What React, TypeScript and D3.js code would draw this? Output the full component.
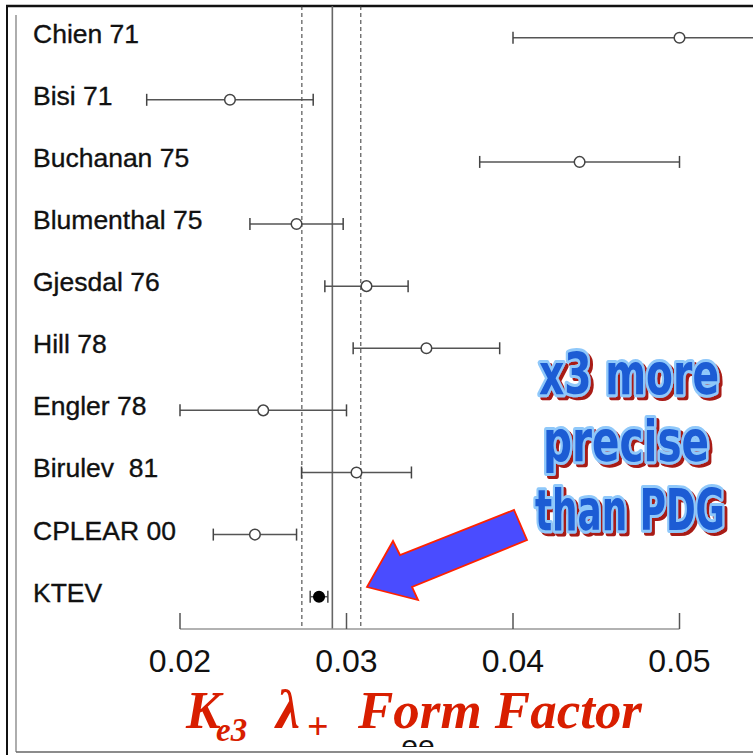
import React from "react";
import * as d3 from "d3";

const experiments = ["Chien 71", "Bisi 71", "Buchanan 75", "Blumenthal 75", "Gjesdal 76", "Hill 78", "Engler 78", "Birulev  81", "CPLEAR 00", "KTEV"];
const centralValues = [0.050, 0.023, 0.044, 0.0270, 0.0312, 0.0348, 0.025, 0.0306, 0.0245, 0.02835];
const errorValues = [0.010, 0.005, 0.006, 0.0028, 0.0025, 0.0044, 0.005, 0.0033, 0.0025, 0.00053];
const filledMarker = [false, false, false, false, false, false, false, false, false, true];
const pdgMean = 0.02915;
const pdgBand = [0.02732, 0.03086];
const tickValues = [0.02, 0.03, 0.04, 0.05];
const annotationLines = ["x3 more", "precise", "than PDG"];

const W = 753, H = 755;

export default function App() {
  const x = d3.scaleLinear().domain([0.02, 0.05]).range([180, 679.5]);
  const y = d3.scalePoint<string>().domain(experiments).range([37.7, 596.7]);
  const axisY = 629;
  const topY = 6;
  const fmt = d3.format(".2f");

  const annot = [
    { t: annotationLines[0], cx: 629, by: 394, w: 180 },
    { t: annotationLines[1], cx: 626, by: 461, w: 166 },
    { t: annotationLines[2], cx: 630, by: 530, w: 190 },
  ];
  const annotFont = "'Liberation Sans Narrow', 'DejaVu Sans Condensed', 'Liberation Sans', Arial, sans-serif";

  const arrowPts: [number, number][] = [
    [367, 587], [393, 541], [400, 555], [514, 510], [527, 540], [412, 587], [418, 600],
  ];

  return (
    <svg width={W} height={H} style={{ position: "absolute", left: 0, top: 0, background: "#fff" }}>
      <defs>
        <clipPath id="plotclip">
          <rect x={16} y={topY} width={W - 16} height={H} />
        </clipPath>
        <clipPath id="hiddenlabel">
          <rect x={0} y={739} width={W} height={8} />
        </clipPath>
        <filter id="redshadow" x="-10%" y="-20%" width="130%" height="150%">
          <feOffset in="SourceAlpha" dx={3} dy={3} result="off" />
          <feFlood floodColor="#a81a14" result="col" />
          <feComposite in="col" in2="off" operator="in" result="shadow" />
          <feMerge>
            <feMergeNode in="shadow" />
            <feMergeNode in="SourceGraphic" />
          </feMerge>
        </filter>
      </defs>
      <rect x={0} y={0} width={W} height={H} fill="#fff" />
      {/* frame */}
      <line x1={7} x2={7} y1={topY} y2={H} stroke="#111" strokeWidth={2} />
      <line x1={6} x2={W} y1={topY} y2={topY} stroke="#111" strokeWidth={2.5} />
      <line x1={16} x2={16} y1={15} y2={752} stroke="#777" strokeWidth={1.2} />
      <line x1={16} x2={W} y1={752} y2={752} stroke="#666" strokeWidth={1.5} />

      {/* PDG lines */}
      <line x1={x(pdgMean)} x2={x(pdgMean)} y1={topY} y2={axisY} stroke="#666" strokeWidth={1.6} />
      {pdgBand.map((v, i) => (
        <line key={i} x1={x(v)} x2={x(v)} y1={topY} y2={axisY} stroke="#333" strokeWidth={1} strokeDasharray="4,3" />
      ))}

      {/* axis */}
      <line x1={x(0.02)} x2={x(0.05)} y1={axisY} y2={axisY} stroke="#999" strokeWidth={1.5} />
      {tickValues.map((t) => (
        <g key={t}>
          <line x1={x(t)} x2={x(t)} y1={axisY - 16} y2={axisY} stroke="#555" strokeWidth={1.5} />
          <text x={x(t)} y={672} textAnchor="middle" fontFamily="'Liberation Sans', Arial, sans-serif" fontSize={32} fill="#111">
            {fmt(t)}
          </text>
        </g>
      ))}

      {/* labels and error bars */}
      {experiments.map((name, i) => {
        const yy = y(name)!;
        const lo = x(centralValues[i] - errorValues[i]);
        const hi = x(centralValues[i] + errorValues[i]);
        const c = x(centralValues[i]);
        return (
          <g key={name}>
            <text x={33} y={yy + 5} fontFamily="'Liberation Sans', Arial, sans-serif" fontSize={26.5} fill="#111" stroke="#111" strokeWidth={0.35} style={{ whiteSpace: "pre" }}>
              {name}
            </text>
            <g clipPath="url(#plotclip)">
              <line x1={lo} x2={hi} y1={yy} y2={yy} stroke="#555" strokeWidth={1.5} />
              <line x1={lo} x2={lo} y1={yy - 6} y2={yy + 6} stroke="#444" strokeWidth={1.5} />
              <line x1={hi} x2={hi} y1={yy - 6} y2={yy + 6} stroke="#444" strokeWidth={1.5} />
              <circle cx={c} cy={yy} r={5.3} fill={filledMarker[i] ? "#000" : "#fff"} stroke={filledMarker[i] ? "#000" : "#444"} strokeWidth={1.5} />
            </g>
          </g>
        );
      })}

      {/* hidden original label remnants */}
      <g clipPath="url(#hiddenlabel)">
        <text x={418} y={756} textAnchor="middle" fontFamily="'Liberation Sans', Arial, sans-serif" fontSize={30} fill="#111">ee</text>
      </g>

      {/* title */}
      <g fill="#d81e00" fontFamily="'Liberation Serif', 'Times New Roman', serif" fontWeight="bold" fontStyle="italic">
        <text x={186} y={728} fontSize={52}>K</text>
        <text x={216} y={741} fontSize={33}>e3</text>
        <text x={276} y={728} fontSize={54}>λ</text>
        <text x={307} y={739} fontSize={38} fontStyle="normal">+</text>
        <text x={358} y={728} fontSize={52} textLength={284} lengthAdjust="spacingAndGlyphs">Form Factor</text>
      </g>

      {/* arrow */}
      <polygon points={arrowPts.map((p) => p.join(",")).join(" ")} fill="#4a4cff" stroke="#ff2200" strokeWidth={1.8} strokeLinejoin="miter" />

      {/* annotation */}
      <g filter="url(#redshadow)">
        {annot.map((a) => (
          <text key={a.t} x={a.cx} y={a.by} fontFamily={annotFont} fontWeight="bold" fontSize={57} textAnchor="middle"
            fill="#1c5bd4" stroke="#8fc8fa" strokeWidth={6} strokeLinejoin="round"
            style={{ paintOrder: "stroke" }}
            textLength={a.w} lengthAdjust="spacingAndGlyphs">{a.t}</text>
        ))}
      </g>
    </svg>
  );
}
